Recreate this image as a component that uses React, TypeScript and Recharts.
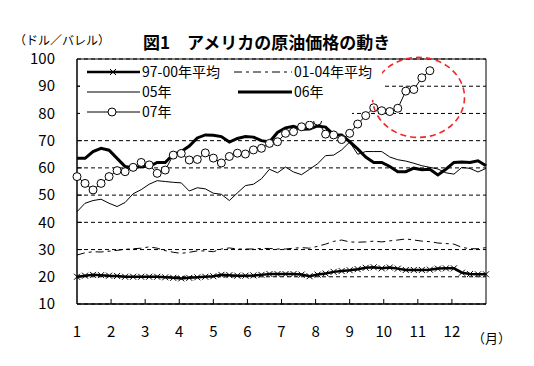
import { LineChart, Line, XAxis, YAxis, CartesianGrid, ReferenceArea, ReferenceDot } from 'recharts'

// weekly prices, 52 weeks (07 ends mid-November)
const MONTHS = [1, 2, 3, 4, 5, 6, 7, 8, 9, 10, 11, 12]
const Y_TICKS = [10, 20, 30, 40, 50, 60, 70, 80, 90, 100]

const AVG_97_00 = [
  20.0, 20.4, 20.7, 20.6, 20.4, 20.3, 20.0, 20.0, 20.0, 20.0, 20.0, 19.8, 19.6,
  19.4, 19.6, 19.8, 20.0, 20.2, 20.7, 20.6, 20.4, 20.4, 20.5, 20.7, 21.0, 21.0,
  21.0, 21.0, 20.8, 20.2, 20.8, 21.2, 21.8, 22.1, 22.4, 22.8, 23.3, 23.5, 23.1,
  23.4, 23.0, 22.5, 22.5, 22.5, 22.6, 23.0, 23.1, 23.1, 21.5, 21.0, 20.9, 20.9,
]
const AVG_01_04 = [
  28.0, 28.8, 29.2, 29.1, 29.4, 29.7, 30.1, 30.3, 30.5, 31.0, 30.5, 29.6, 29.0,
  28.6, 29.0, 29.5, 29.5, 29.2, 30.2, 30.6, 30.2, 30.2, 30.2, 30.4, 30.4, 30.2,
  30.2, 30.5, 30.7, 30.5, 31.2, 32.0, 33.0, 33.5, 32.8, 32.7, 32.8, 33.1, 32.8,
  33.2, 33.5, 33.9, 33.5, 33.1, 32.9, 32.4, 32.2, 32.0, 30.8, 30.3, 30.3, 30.7,
]
const Y2005 = [
  43.9, 47.0, 48.0, 48.5, 47.0, 45.8, 47.3, 50.5, 52.0, 54.0, 55.3, 55.0, 54.7,
  54.5, 51.5, 52.7, 52.3, 50.7, 50.3, 48.0, 50.8, 53.5, 54.0, 56.0, 59.5, 58.2,
  60.3, 58.5, 57.5, 59.5, 61.5, 64.5, 64.7, 66.6, 69.5, 65.0, 66.0, 66.0, 66.0,
  64.0, 63.0, 62.5, 61.7, 60.8, 60.2, 59.6, 58.2, 57.7, 60.2, 59.8, 58.5, 59.8,
]
const Y2006 = [
  63.5, 63.5, 66.0, 67.2, 66.5, 63.5, 60.5, 60.0, 60.5, 60.5, 62.0, 62.0, 65.0,
  66.0, 68.0, 71.0, 72.1, 72.0, 71.5, 69.5, 70.8, 71.5, 71.3, 70.0, 69.5, 73.0,
  74.7, 75.3, 74.2, 74.3, 75.4, 75.0, 72.2, 72.1, 69.6, 67.0, 64.0, 62.0, 62.0,
  60.5, 58.6, 58.6, 59.9, 59.3, 59.5, 57.4, 59.5, 62.0, 62.2, 62.0, 62.6, 60.8,
]
const Y2007 = [
  56.8, 54.3, 51.9, 54.3, 56.8, 59.0, 58.6, 60.2, 62.0, 61.1, 58.0, 59.2, 64.7,
  65.3, 62.9, 63.1, 65.5, 63.6, 61.8, 64.2, 65.4, 65.1, 66.6, 67.2, 69.0, 69.6,
  72.7, 73.3, 75.1, 75.7, 77.2, 72.4, 72.1, 70.4, 72.7, 76.1, 79.2, 82.1, 81.0,
  80.7, 81.9, 88.2, 88.8, 93.1, 95.7,
]

const FONT = "'Noto Sans CJK JP', 'Noto Sans', sans-serif"

const data = Y2006.map((_, i) => ({
  t: 1 + (i * 12) / 51,
  a: AVG_97_00[i],
  b: AVG_01_04[i],
  c: Y2005[i],
  d: Y2006[i],
  e: i < Y2007.length ? Y2007[i] : null,
}))

const CrossDot = (p: any) => {
  const { cx, cy, index } = p
  if (cx == null || cy == null) return <g key={index} />
  return (
    <path
      key={index}
      d={`M${cx - 3},${cy - 3}L${cx + 3},${cy + 3}M${cx - 3},${cy + 3}L${cx + 3},${cy - 3}`}
      stroke="#000"
      strokeWidth={1}
    />
  )
}

const YTick = ({ x, y, payload }: any) => (
  <g>
    <text x={x} y={y} dy="0.35em" textAnchor="end" fontSize={15} fill="#000" fontFamily={FONT}>
      {payload.value}
    </text>
    {payload.value > 10 && payload.value < 100 && (
      <line x1={x + 22} x2={x + 27} y1={y} y2={y} stroke="#000" />
    )}
  </g>
)

const XTick = ({ x, y, payload }: any) => (
  <g>
    <text x={x} y={y} dy="0.71em" textAnchor="middle" fontSize={15} fill="#000" fontFamily={FONT}>
      {payload.value}
    </text>
    {payload.value > 1 && <line x1={x} x2={x} y1={y - 22} y2={y - 27} stroke="#000" />}
  </g>
)

const Ellipse = (p: any) => (
  <ellipse cx={p.cx} cy={p.cy} rx={46} ry={40} fill="none" stroke="#f02828" strokeWidth={1.6} strokeDasharray="6 4" />
)

function LegendBox() {
  const t = { fontSize: 14, fontFamily: FONT, fill: '#000' }
  return (
    <svg width={534} height={366} style={{ position: 'absolute', left: 0, top: 0, pointerEvents: 'none' }}>
      <rect x={80} y={62} width={302} height={38} fill="#fff" />
      <rect x={80} y={100} width={272} height={21} fill="#fff" />
      <line x1={87} x2={140} y1={72} y2={72} stroke="#000" strokeWidth={2.5} />
      <path d="M110,69L116,75M110,75L116,69" stroke="#000" />
      <text x={142} y={72} dy="0.35em" {...t}>97-00年平均</text>
      <line x1={234} x2={292} y1={72} y2={72} stroke="#000" strokeDasharray="8 4 3 4" />
      <text x={294} y={72} dy="0.35em" {...t}>01-04年平均</text>
      <line x1={87} x2={140} y1={92} y2={92} stroke="#000" />
      <text x={142} y={92} dy="0.35em" {...t}>05年</text>
      <line x1={238} x2={292} y1={92} y2={92} stroke="#000" strokeWidth={3} />
      <text x={294} y={92} dy="0.35em" {...t}>06年</text>
      <line x1={87} x2={140} y1={112} y2={112} stroke="#000" />
      <circle cx={112} cy={112} r={4} fill="#fff" stroke="#000" />
      <text x={142} y={112} dy="0.35em" {...t}>07年</text>
    </svg>
  )
}

export default function App() {
  return (
    <div style={{ position: 'absolute', left: 0, top: 0, width: 534, height: 366, background: '#fff', fontFamily: FONT }}>
      <LineChart width={534} height={366} data={data} margin={{ top: 59, right: 48, bottom: 32, left: 0 }}>
        <CartesianGrid vertical={false} stroke="#000" strokeDasharray="4 3" />
        <XAxis
          dataKey="t"
          type="number"
          domain={[1, 13]}
          ticks={MONTHS}
          interval={0}
          height={30}
          tickSize={0}
          tickMargin={22}
          tickLine={false}
          axisLine={{ stroke: '#000' }}
          tick={<XTick />}
        />
        <YAxis
          type="number"
          domain={[10, 100]}
          ticks={Y_TICKS}
          interval={0}
          width={77}
          tickSize={0}
          tickMargin={22}
          tickLine={false}
          axisLine={{ stroke: '#000' }}
          tick={<YTick />}
        />
        <ReferenceArea x1={1} x2={13} y1={10} y2={100} fill="none" stroke="#000" strokeWidth={1} />
        <Line dataKey="a" stroke="#000" strokeWidth={2.5} dot={<CrossDot />} isAnimationActive={false} />
        <Line dataKey="b" stroke="#000" strokeWidth={1} strokeDasharray="8 4 3 4" dot={false} isAnimationActive={false} />
        <Line dataKey="c" stroke="#000" strokeWidth={1} dot={false} isAnimationActive={false} />
        <Line dataKey="d" stroke="#000" strokeWidth={3} dot={false} isAnimationActive={false} />
        <Line
          dataKey="e"
          stroke="#000"
          strokeWidth={1}
          dot={{ r: 4, fill: '#fff', stroke: '#000', strokeWidth: 1 }}
          isAnimationActive={false}
        />
        <ReferenceDot x={11.02} y={85.9} ifOverflow="visible" shape={<Ellipse />} />
      </LineChart>
      <LegendBox />
      <div style={{ position: 'absolute', left: 14, top: 31, fontSize: 12, whiteSpace: 'nowrap' }}>（ドル／バレル）</div>
      <div style={{ position: 'absolute', left: 143, top: 29, fontSize: 17, fontWeight: 'bold', whiteSpace: 'nowrap' }}>
        図1　アメリカの原油価格の動き
      </div>
      <div style={{ position: 'absolute', left: 472, top: 328, fontSize: 13, whiteSpace: 'nowrap' }}>（月）</div>
    </div>
  )
}
